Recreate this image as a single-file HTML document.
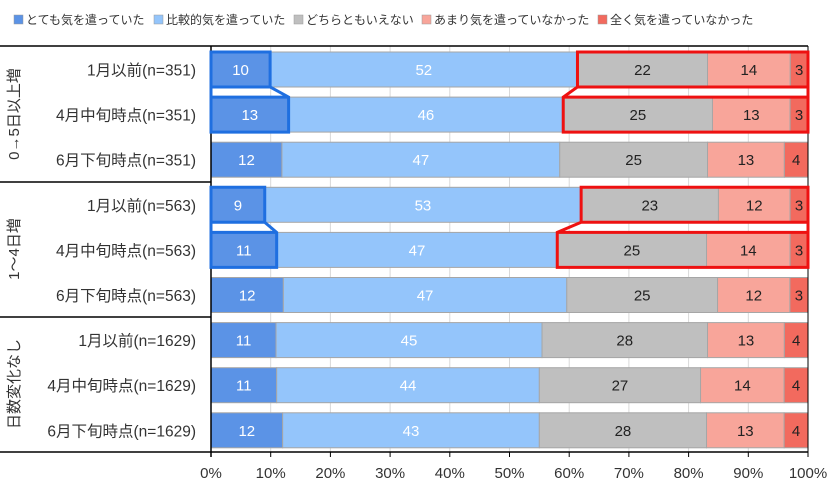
<!DOCTYPE html>
<html><head><meta charset="utf-8"><style>
body{margin:0;background:#fff;font-family:"Liberation Sans","Noto Sans CJK JP",sans-serif;}
svg text{font-family:"Liberation Sans","Noto Sans CJK JP",sans-serif;}
</style></head><body>
<svg id="c" width="840" height="488"></svg>
<script>
const seriesNames=["とても気を遣っていた","比較的気を遣っていた","どちらともいえない","あまり気を遣っていなかった","全く気を遣っていなかった"];
const colors=["#5b93e6","#94c5fb","#bfbfbf","#f8a59a","#f26a5e"];
const labelColors=["#fff","#fff","#222","#222","#222"];
const categories=["1月以前(n=351)","4月中旬時点(n=351)","6月下旬時点(n=351)","1月以前(n=563)","4月中旬時点(n=563)","6月下旬時点(n=563)","1月以前(n=1629)","4月中旬時点(n=1629)","6月下旬時点(n=1629)"];
const groups=["0→5日以上増","1～4日増","日数変化なし"];
const s1=[10,13,12,9,11,12,11,11,12];
const s2=[52,46,47,53,47,47,45,44,43];
const s3=[22,25,25,23,25,25,28,27,28];
const s4=[14,13,13,12,14,12,13,14,13];
const s5=[3,3,4,3,3,3,4,4,4];
const ticks=["0%","10%","20%","30%","40%","50%","60%","70%","80%","90%","100%"];
const series=[s1,s2,s3,s4,s5];
const svg=document.getElementById('c');const NS="http://www.w3.org/2000/svg";
function el(t,a,p){const e=document.createElementNS(NS,t);for(const k in a)e.setAttribute(k,a[k]);(p||svg).appendChild(e);return e;}
const X0=211,X1=808;const x=v=>X0+(X1-X0)*v/100;
const rowTop=i=>52+45.1*i;const BH=35;
// legend
let lx=14;
seriesNames.forEach((n,i)=>{const r=el('rect',{x:lx,y:15,width:9,height:9,fill:colors[i],stroke:'#999','stroke-width':0.5});


const t=el('text',{x:lx+12,y:24,'font-size':12,fill:'#333'});t.textContent=n;


lx+=12+n.length*12+8;});
// grid
ticks.forEach((tk,i)=>{const xv=x(i*10);
if(i>0&&i<10){const g=el('line',{x1:xv,x2:xv,y1:46,y2:452,stroke:'#d9d9d9','stroke-width':1});}
el('line',{x1:xv,x2:xv,y1:452,y2:457,stroke:'#000'});
const t=el('text',{x:xv,y:478,'font-size':15,'text-anchor':'middle',fill:'#333'});t.textContent=tk;

});
// bars
categories.forEach((c,i)=>{const tot=series.reduce((a,s)=>a+s[i],0);let acc=0;
series.forEach((s,j)=>{const a=x(acc/tot*100),b=x((acc+s[i])/tot*100);
const r=el('rect',{x:a,y:rowTop(i),width:b-a,height:BH,fill:colors[j],stroke:'#a6a6a6','stroke-width':1});


const t=el('text',{x:(a+b)/2,y:rowTop(i)+BH/2+5.5,'font-size':15,'text-anchor':'middle',fill:labelColors[j]});t.textContent=s[i];


acc+=s[i];});
const t=el('text',{x:196,y:rowTop(i)+BH/2+6,'font-size':15.5,'text-anchor':'end',fill:'#333'});t.textContent=c;

});
// axes / lines
el('line',{x1:0,x2:X1,y1:46,y2:46,stroke:'#000','stroke-width':1.5});
el('line',{x1:0,x2:X1,y1:452,y2:452,stroke:'#000','stroke-width':1.5});
el('line',{x1:X0,x2:X0,y1:46,y2:457,stroke:'#000','stroke-width':1.5});
el('line',{x1:X1,x2:X1,y1:46,y2:457,stroke:'#000','stroke-width':1});
[182,317].forEach(y=>el('line',{x1:0,x2:X0,y1:y,y2:y,stroke:'#000','stroke-width':1.5}));
groups.forEach((g,k)=>{const cy=114+135*k;const t=el('text',{x:0,y:0,'font-size':15,'text-anchor':'middle',fill:'#333',transform:`translate(19,${cy}) rotate(-90)`});t.textContent=g;

});
// highlights
function cum(i,k){const tot=series.reduce((a,s)=>a+s[i],0);let a=0;for(let j=0;j<k;j++)a+=series[j][i];return x(a/tot*100);}
[0,3].forEach(r=>{const t0=rowTop(r),b0=t0+BH,t1=rowTop(r+1),b1=t1+BH;
const e0=cum(r,1),e1=cum(r+1,1);
const p=el('path',{d:`M${X0},${t0}H${e0}V${b0}L${e1},${t1}V${b1}H${X0}ZM${X0},${b0}H${e0}M${X0},${t1}H${e1}`,fill:'none',stroke:'#1f6fe0','stroke-width':3});


const s0=cum(r,2),s1x=cum(r+1,2);
const q=el('path',{d:`M${X1},${t0}H${s0}V${b0}L${s1x},${t1}V${b1}H${X1}ZM${X1},${b0}H${s0}M${X1},${t1}H${s1x}`,fill:'none',stroke:'#ee1111','stroke-width':3});

});
</script>
</body></html>
